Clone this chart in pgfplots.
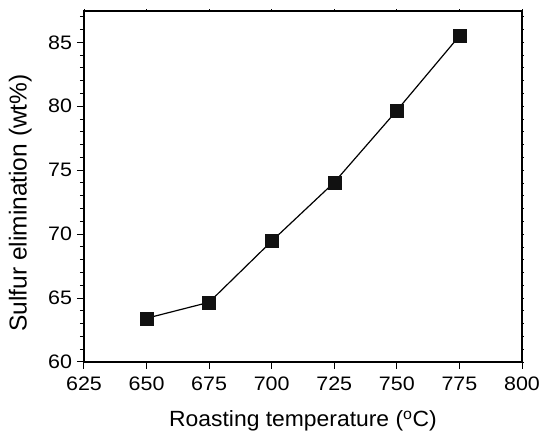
\documentclass[border=0pt]{standalone}
\usepackage{pgfplots}
\pgfplotsset{compat=1.18}
\usepackage{fontspec}
\setmainfont{Liberation Sans}
\newfontfamily\tickfont{Liberation Sans}[FakeStretch=1.10]
\newfontfamily\xlabfont{Liberation Sans}[FakeStretch=1.04]
\definecolor{mk}{HTML}{111111}
\begin{document}
\begin{tikzpicture}
\begin{axis}[
  name=main,
  scale only axis, width=438pt, height=351pt,
  xmin=625, xmax=800, ymin=60, ymax=87.45,
  xtick={625,650,...,800}, ytick={60,65,...,85},
  minor ytick={61,62,...,87},
  xtick pos=bottom, ytick pos=left,
  tick align=outside,
  major tick length=7pt, minor tick length=4pt,
  every tick/.style={black, line width=1pt},
  axis line style={line width=1.4pt},
  /pgf/number format/assume math mode=true,
  /pgf/number format/1000 sep={},
  ticklabel style={font=\tickfont\fontsize{19.5}{22}\selectfont},
  xticklabel style={yshift=-4.5pt},
  yticklabel style={xshift=-1.5pt},
  xlabel={Roasting temperature (\textsuperscript{o}C)},
  ylabel={Sulfur elimination (wt\%)},
  xlabel style={font=\xlabfont\fontsize{22}{26}\selectfont, at={(axis description cs:0.5,-0.1852)}, anchor=base},
  ylabel style={font=\fontsize{24.5}{28}\selectfont, at={(axis description cs:-0.131,0.453)}, anchor=base},
]
\addplot[black, line width=1.2pt, mark=square*, mark size=6.5pt, mark options={fill=mk, draw=mk, line width=0.5pt}]
coordinates {(650,63.42) (675,64.67) (700,69.45) (725,74.05) (750,79.67) (775,85.5)};
\end{axis}
\begin{axis}[
  scale only axis, width=438pt, height=351pt,
  xmin=625, xmax=800, ymin=60, ymax=87.45,
  xtick={625,650,...,800}, ytick={60,61,...,87},
  xtick pos=top, ytick pos=right,
  tick align=center,
  major tick length=3pt,
  every tick/.style={black, line width=0.8pt},
  axis line style={line width=1.4pt},
  xticklabels={}, yticklabels={},
]
\end{axis}
\pgfresetboundingbox
\path ([xshift=-84pt,yshift=-73pt]main.south west) rectangle ([xshift=17pt,yshift=11pt]main.north east);
\end{tikzpicture}
\end{document}
